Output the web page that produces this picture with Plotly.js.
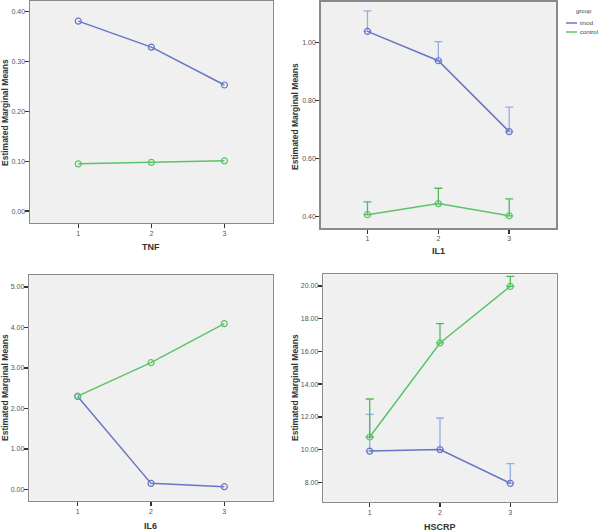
<!DOCTYPE html>
<html>
<head>
<meta charset="utf-8">
<script src="https://cdn.plot.ly/plotly-3.0.1.min.js"></script>
<style>html,body{margin:0;padding:0;background:#fff;}#chart{width:600px;height:531px;}</style>
</head>
<body>
<div id="chart"></div>
<script>
// Data
const times = [1, 2, 3];
const groups = ["imod", "control"];
const tnfImod = [0.381, 0.329, 0.253];
const tnfControl = [0.095, 0.098, 0.101];
const il1Imod = [1.038, 0.937, 0.693];
const il1ImodErr = [0.071, 0.066, 0.084];
const il1Control = [0.407, 0.445, 0.403];
const il1ControlErr = [0.044, 0.053, 0.058];
const il6Imod = [2.29, 0.148, 0.065];
const il6Control = [2.30, 3.126, 4.09];
const hscrpImod = [9.91, 10.0, 7.94];
const hscrpImodErr = [2.24, 1.93, 1.21];
const hscrpControl = [10.77, 16.51, 19.96];
const hscrpControlErr = [2.32, 1.18, 0.61];
const panelTitles = ["TNF", "IL1", "IL6", "HSCRP"];
const yTitle = "Estimated Marginal Means";

const blue = "#6677c6", blueErr = "#93aee2";
const green = "#5cc468", greenErr = "#4cbb5a";

function series(xa, ya, y, color, err, errColor) {
  const t = {
    x: times, y: y, xaxis: xa, yaxis: ya, type: "scatter", mode: "lines+markers",
    line: {color: color, width: 1.5},
    marker: {symbol: "circle-open", size: 6, color: color, line: {width: 1.2, color: color}},
    showlegend: false, hoverinfo: "skip"
  };
  if (err) {
    t.error_y = {type: "data", symmetric: false, array: err, arrayminus: err.map(() => 0),
      color: errColor, thickness: 1.3, width: 4};
  }
  return t;
}

const data = [
  series("x", "y", tnfImod, blue),
  series("x", "y", tnfControl, green),
  series("x2", "y2", il1Imod, blue, il1ImodErr, blueErr),
  series("x2", "y2", il1Control, green, il1ControlErr, greenErr),
  series("x3", "y3", il6Imod, blue),
  series("x3", "y3", il6Control, green),
  series("x4", "y4", hscrpImod, blue, hscrpImodErr, blueErr),
  series("x4", "y4", hscrpControl, green, hscrpControlErr, greenErr)
];

const font = {family: "Liberation Sans, Arial, sans-serif"};
function xaxis(dom, anchor) {
  return {domain: dom, anchor: anchor, range: [0.34, 3.66], tickvals: times, ticktext: times.map(String),
    showgrid: false, zeroline: false, showline: true, mirror: true, linecolor: "#8a8a8a", linewidth: 1.5,
    ticks: "outside", ticklen: 4, tickwidth: 1.5, tickcolor: "#333", ticklabelstandoff: -1,
    tickfont: {size: 7, color: "#555", family: font.family}, fixedrange: true};
}
function yaxis(dom, anchor, range, dtick, tick0) {
  return {domain: dom, anchor: anchor, range: range, dtick: dtick, tick0: tick0, tickformat: ".2f",
    showgrid: false, zeroline: false, showline: true, mirror: true, linecolor: "#8a8a8a", linewidth: 1.5,
    ticks: "outside", ticklen: 4, tickwidth: 1.5, tickcolor: "#333", ticklabelstandoff: -2,
    tickfont: {size: 7, color: "#555", family: font.family}, fixedrange: true};
}

const W = 600, H = 531;
const px = v => v / W, py = v => 1 - v / H;

const annotations = [];
function ann(text, x, y, angle, size, bold) {
  annotations.push({text: bold ? "<b>" + text + "</b>" : text, x: px(x), y: py(y), xref: "paper", yref: "paper",
    showarrow: false, textangle: angle || 0, xanchor: "center", yanchor: "middle",
    font: {size: size, color: "#333", family: font.family}});
}
ann(panelTitles[0], 151, 247, 0, 9, true);
ann(panelTitles[1], 438, 251.5, 0, 9, true);
ann(panelTitles[2], 150, 526, 0, 9, true);
ann(panelTitles[3], 440, 527, 0, 9, true);
ann(yTitle, 5, 113, -90, 8.5, true);
ann(yTitle, 295, 117, -90, 8.5, true);
ann(yTitle, 5, 388, -90, 8.5, true);
ann(yTitle, 295, 388, -90, 8.5, true);

// manual legend
annotations.push({text: "group", x: px(584), y: py(11), xref: "paper", yref: "paper", showarrow: false,
  xanchor: "center", yanchor: "middle", font: {size: 6, color: "#444", family: font.family}});
const legColors = [blue, green];
const shapes = [];
groups.forEach((g, i) => {
  const yy = 23 + i * 9;
  shapes.push({type: "line", xref: "paper", yref: "paper", x0: px(566), x1: px(577), y0: py(yy), y1: py(yy),
    line: {color: legColors[i], width: 1.5}});
  annotations.push({text: g, x: px(577.5), y: py(yy), xref: "paper", yref: "paper", showarrow: false,
    xanchor: "left", yanchor: "middle", font: {size: 6, color: "#444", family: font.family}});
});

const layout = {
  width: W, height: H, margin: {l: 0, r: 0, t: 0, b: 0},
  paper_bgcolor: "#ffffff", plot_bgcolor: "#f0f0f0", showlegend: false,
  font: font,
  xaxis: xaxis([px(30), px(272.7)], "y"),
  yaxis: yaxis([py(222.7), py(0.7)], "x", [-0.023, 0.422], 0.1, 0),
  xaxis2: xaxis([px(320.7), px(556)], "y2"),
  yaxis2: yaxis([py(228.3), py(1.5)], "x2", [0.36, 1.141], 0.2, 0.4),
  xaxis3: xaxis([px(29.3), px(272.7)], "y3"),
  yaxis3: yaxis([py(500.7), py(275)], "x3", [-0.28, 5.29], 1, 0),
  xaxis4: xaxis([px(323.3), px(556.7)], "y4"),
  yaxis4: yaxis([py(501.7), py(274.3)], "x4", [6.82, 20.7], 2, 0),
  annotations: annotations, shapes: shapes
};

Plotly.newPlot("chart", data, layout, {staticPlot: true, displayModeBar: false});
</script>
</body>
</html>
